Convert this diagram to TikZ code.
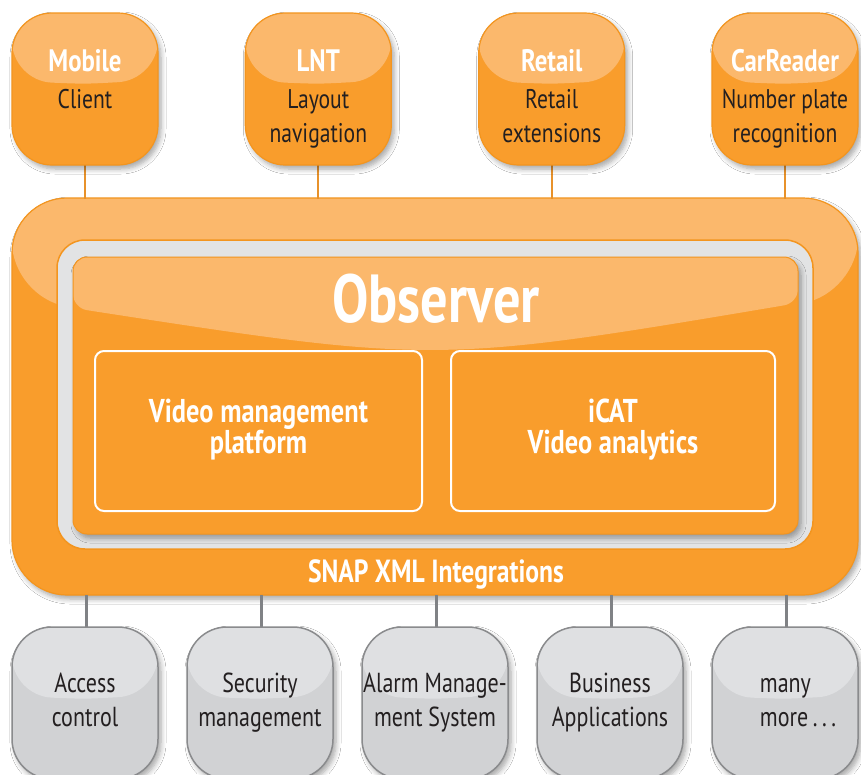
\documentclass[tikz,border=0pt]{standalone}
\usepackage{fontspec}
\setmainfont{PT Sans}[FakeStretch=0.8]
\usetikzlibrary{shadows.blur}
\definecolor{oMain}{HTML}{F99D2C}
\definecolor{oLight}{HTML}{FBB86C}
\definecolor{oEdge}{HTML}{F3951F}
\definecolor{oLine}{HTML}{E8922B}
\definecolor{gTop}{HTML}{DFE0E2}
\definecolor{gBot}{HTML}{D1D2D4}
\definecolor{gEdge}{HTML}{8A8B8D}
\definecolor{gLine}{HTML}{808285}
\definecolor{cav}{HTML}{E2E3E4}
\definecolor{txt}{HTML}{231F20}
\tikzset{
  softshadow/.style={blur shadow={shadow xshift=3pt,shadow yshift=-4pt,shadow blur radius=5pt,shadow blur steps=6,shadow opacity=35}},
  topbox/.style={draw=oEdge,line width=1.2pt,fill=oMain,rounded corners=40pt,minimum width=146pt,minimum height=152pt,inner sep=0pt,softshadow,
    path picture={\fill[oLight] ([yshift=-68pt]path picture bounding box.north west) .. controls ([yshift=-71pt]path picture bounding box.north) .. ([yshift=-67pt]path picture bounding box.north east) -- (path picture bounding box.north east) -- (path picture bounding box.north west) -- cycle;}},
  greybox/.style={draw=gEdge,line width=1.5pt,fill=gBot,rounded corners=40pt,minimum width=146pt,minimum height=152pt,inner sep=0pt,softshadow,
    path picture={\fill[gTop] ([yshift=-69pt]path picture bounding box.north west) .. controls ([yshift=-72pt]path picture bounding box.north) .. ([yshift=-68pt]path picture bounding box.north east) -- (path picture bounding box.north east) -- (path picture bounding box.north west) -- cycle;}},
  framebox/.style={draw=oEdge,line width=1.2pt,fill=oMain,rounded corners=55pt,minimum width=846pt,minimum height=397pt,inner sep=0pt,softshadow,
    path picture={\fill[oLight] ([yshift=-99pt]path picture bounding box.north west) .. controls ([yshift=-172pt]path picture bounding box.north) .. ([yshift=-95pt]path picture bounding box.north east) -- (path picture bounding box.north east) -- (path picture bounding box.north west) -- cycle;}},
  cavity/.style={draw=oEdge,line width=1.5pt,fill=cav,rounded corners=28pt,minimum width=756pt,minimum height=309pt,inner sep=0pt},
  obsbox/.style={draw=oEdge,line width=1pt,fill=oMain,rounded corners=14pt,minimum width=725pt,minimum height=277pt,inner sep=0pt,softshadow,
    path picture={\fill[oLight] ([yshift=-51pt]path picture bounding box.north west) .. controls ([yshift=-107pt]path picture bounding box.north) .. ([yshift=-46pt]path picture bounding box.north east) -- (path picture bounding box.north east) -- (path picture bounding box.north west) -- cycle;}},
  innerbox/.style={draw=white,line width=2pt,rounded corners=9pt,minimum height=160pt,inner sep=0pt},
  ttl/.style={text=white,font=\fontsize{31}{34}\selectfont\bfseries,anchor=base,inner sep=0pt},
  sub/.style={text=txt,font=\fontsize{27}{34}\selectfont,anchor=base,inner sep=0pt,align=center},
  gtxt/.style={text=txt,font=\fontsize{27.5}{34}\selectfont,anchor=base,inner sep=0pt,align=center},
  itxt/.style={text=white,font=\fontsize{33}{31}\selectfont\bfseries,anchor=base,inner sep=0pt,align=center},
  oconn/.style={draw=oLine,line width=2pt},
  gconn/.style={draw=gLine,line width=3pt}
}
\begin{document}
\begin{tikzpicture}[x=1pt,y=-1pt]
\useasboundingbox[fill=white] (0,0) rectangle (861,774);
% outer frame
\node[framebox] (frame) at (435,396.5) {};
\node[cavity] (cav) at (435,394.5) {};
\node[obsbox] (obs) at (435.5,395.5) {};
\node[innerbox,minimum width=327pt] (vmp) at (258.5,431) {};
\node[innerbox,minimum width=324pt] (icat) at (613,431) {};
\node[text=white,font=\fontsize{68}{70}\selectfont\bfseries,anchor=base,inner sep=0pt] (obst) at (436,322) {Observer};
\node[itxt] (vmpt) at (258.5,453) {Video management\\platform};
\node[itxt] (icatt) at (613,453) {iCAT\\Video analytics};
\node[text=white,font=\fontsize{32}{34}\selectfont\bfseries,anchor=base,inner sep=0pt] (snap) at (436,582) {SNAP XML Integrations};
% top boxes
\foreach \x in {85,318.3,551.7,785}{
  \draw[oconn] (\x,160) -- (\x,199);
}
\node[topbox] (mob) at (85,89) {};
\node[topbox] (lnt) at (318.3,89) {};
\node[topbox] (ret) at (551.7,89) {};
\node[topbox] (car) at (785,89) {};
\node[ttl] (mobt) at (85,71) {Mobile};
\node[ttl] (lntt) at (318.3,71) {LNT};
\node[ttl] (rett) at (551.7,71) {Retail};
\node[ttl] (cart) at (785,71) {CarReader};
\node[sub] (mobs) at (85,108) {Client};
\node[sub] (lnts) at (318.3,142) {Layout\\navigation};
\node[sub] (rets) at (551.7,142) {Retail\\extensions};
\node[sub] (cars) at (785,142) {Number plate\\recognition};
% bottom boxes
\foreach \x in {86,261,436,611,786}{
  \draw[gconn] (\x,595) -- (\x,630);
}
\node[greybox] (acc) at (85,703) {};
\node[greybox] (sec) at (260,703) {};
\node[greybox] (alm) at (435,703) {};
\node[greybox] (bus) at (610,703) {};
\node[greybox] (mny) at (785,703) {};
\node[gtxt] (acct) at (85,726) {Access\\control};
\node[gtxt] (sect) at (260,726) {Security\\management};
\node[gtxt] (almt) at (435,726) {Alarm Manage-\\ment System};
\node[gtxt] (bust) at (610,726) {Business\\Applications};
\node[gtxt,align=left] (mnyt) at (798,726) {many\\more\,.\,.\,.};
\end{tikzpicture}
\end{document}
